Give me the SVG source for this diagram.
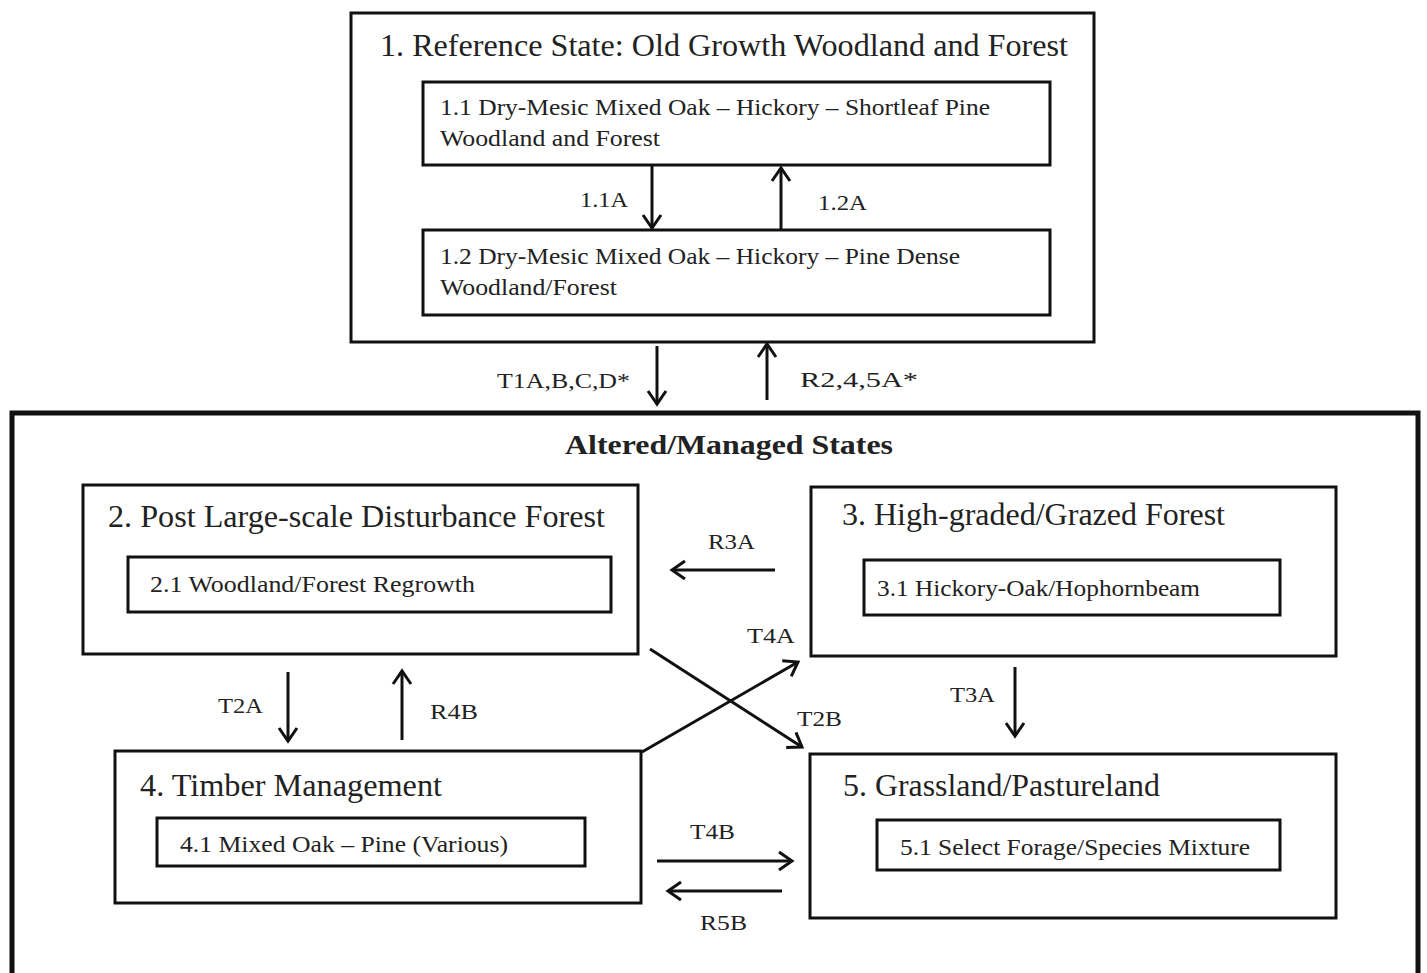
<svg xmlns="http://www.w3.org/2000/svg" width="1427" height="973" viewBox="0 0 1427 973">
<defs>
<marker id="ah" viewBox="0 0 20 24" refX="17" refY="12" markerWidth="20" markerHeight="24" markerUnits="userSpaceOnUse" orient="auto">
<polyline points="4,3 17,12 4,21" fill="none" stroke="#111" stroke-width="3"/>
</marker>
<style>
.box{fill:#fff;stroke:#111;stroke-width:3}
.big{fill:#fff;stroke:#111;stroke-width:5}
.t{font-family:"Liberation Serif","Times New Roman",serif;fill:#222}
.h{font-size:31px}
.s{font-size:24px}
.l{font-size:22px}
.b{font-size:28px;font-weight:bold}
.c{fill:none;stroke:#111;stroke-width:3;marker-end:url(#ah)}
</style>
</defs>
<rect width="1427" height="973" fill="#fff"/>
<g id="state1">
<rect class="box" x="351" y="13" width="743" height="329"/>
<text class="t h" x="380" y="56" textLength="688" lengthAdjust="spacingAndGlyphs">1. Reference State: Old Growth Woodland and Forest</text>
</g>
<g id="phase11">
<rect class="box" x="423" y="82" width="627" height="83"/>
<text class="t s" x="440" y="115" textLength="550" lengthAdjust="spacingAndGlyphs">1.1 Dry-Mesic Mixed Oak – Hickory – Shortleaf Pine</text>
<text class="t s" x="440" y="146" textLength="220" lengthAdjust="spacingAndGlyphs">Woodland and Forest</text>
</g>
<g id="phase12">
<rect class="box" x="423" y="230" width="627" height="85"/>
<text class="t s" x="440" y="264" textLength="520" lengthAdjust="spacingAndGlyphs">1.2 Dry-Mesic Mixed Oak – Hickory – Pine Dense</text>
<text class="t s" x="440" y="295" textLength="177" lengthAdjust="spacingAndGlyphs">Woodland/Forest</text>
</g>
<g id="altered">
<rect class="big" x="12" y="413" width="1406" height="580"/>
<text class="t b" x="565" y="454" textLength="328" lengthAdjust="spacingAndGlyphs">Altered/Managed States</text>
</g>
<g id="state2">
<rect class="box" x="83" y="485" width="555" height="169"/>
<text class="t h" x="108" y="527" textLength="497" lengthAdjust="spacingAndGlyphs">2. Post Large-scale Disturbance Forest</text>
<rect class="box" x="128" y="557" width="483" height="55"/>
<text class="t s" x="150" y="592" textLength="325" lengthAdjust="spacingAndGlyphs">2.1 Woodland/Forest Regrowth</text>
</g>
<g id="state3">
<rect class="box" x="811" y="487" width="525" height="169"/>
<text class="t h" x="842" y="525" textLength="383" lengthAdjust="spacingAndGlyphs">3. High-graded/Grazed Forest</text>
<rect class="box" x="864" y="560" width="416" height="55"/>
<text class="t s" x="877" y="596" textLength="323" lengthAdjust="spacingAndGlyphs">3.1 Hickory-Oak/Hophornbeam</text>
</g>
<g id="state4">
<rect class="box" x="115" y="751" width="526" height="152"/>
<text class="t h" x="140" y="796" textLength="302" lengthAdjust="spacingAndGlyphs">4. Timber Management</text>
<rect class="box" x="157" y="818" width="428" height="48"/>
<text class="t s" x="180" y="852" textLength="328" lengthAdjust="spacingAndGlyphs">4.1 Mixed Oak – Pine (Various)</text>
</g>
<g id="state5">
<rect class="box" x="810" y="754" width="526" height="164"/>
<text class="t h" x="843" y="796" textLength="317" lengthAdjust="spacingAndGlyphs">5. Grassland/Pastureland</text>
<rect class="box" x="877" y="820" width="403" height="50"/>
<text class="t s" x="900" y="855" textLength="350" lengthAdjust="spacingAndGlyphs">5.1 Select Forage/Species Mixture</text>
</g>
<g id="connectors">
<line class="c" x1="652" y1="166" x2="652" y2="228"/>
<line class="c" x1="781" y1="230" x2="781" y2="168"/>
<line class="c" x1="657" y1="346" x2="657" y2="404"/>
<line class="c" x1="767" y1="400" x2="767" y2="344"/>
<line class="c" x1="775" y1="570" x2="672" y2="570"/>
<line class="c" x1="288" y1="672" x2="288" y2="741"/>
<line class="c" x1="402" y1="740" x2="402" y2="671"/>
<line class="c" x1="1015" y1="667" x2="1015" y2="736"/>
<line class="c" x1="650" y1="649" x2="802" y2="747"/>
<line class="c" x1="642" y1="752" x2="798" y2="662"/>
<line class="c" x1="657" y1="861" x2="792" y2="861"/>
<line class="c" x1="782" y1="891" x2="668" y2="891"/>
<g class="t l">
<text x="580" y="207" textLength="48" lengthAdjust="spacingAndGlyphs">1.1A</text>
<text x="818" y="210" textLength="49" lengthAdjust="spacingAndGlyphs">1.2A</text>
<text x="497" y="388" textLength="133" lengthAdjust="spacingAndGlyphs">T1A,B,C,D*</text>
<text x="800" y="387" textLength="118" lengthAdjust="spacingAndGlyphs">R2,4,5A*</text>
<text x="708" y="549" textLength="47" lengthAdjust="spacingAndGlyphs">R3A</text>
<text x="747" y="643" textLength="48" lengthAdjust="spacingAndGlyphs">T4A</text>
<text x="797" y="726" textLength="45" lengthAdjust="spacingAndGlyphs">T2B</text>
<text x="218" y="713" textLength="45" lengthAdjust="spacingAndGlyphs">T2A</text>
<text x="430" y="719" textLength="48" lengthAdjust="spacingAndGlyphs">R4B</text>
<text x="950" y="702" textLength="45" lengthAdjust="spacingAndGlyphs">T3A</text>
<text x="690" y="839" textLength="45" lengthAdjust="spacingAndGlyphs">T4B</text>
<text x="700" y="930" textLength="47" lengthAdjust="spacingAndGlyphs">R5B</text>
</g>
</g>
</svg>
